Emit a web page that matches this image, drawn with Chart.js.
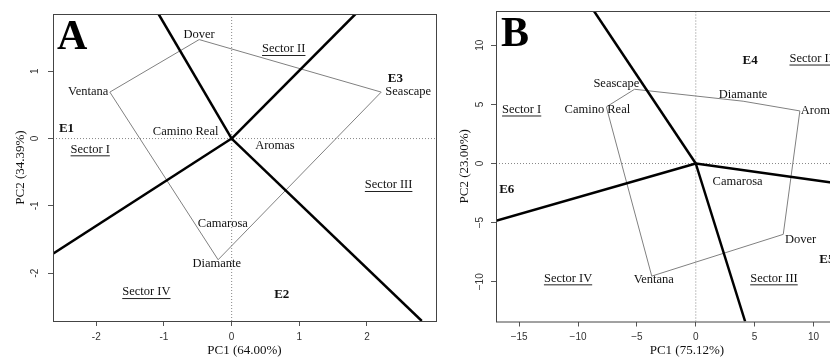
<!DOCTYPE html>
<html>
<head>
<meta charset="utf-8">
<script src="https://cdn.jsdelivr.net/npm/chart.js@4.4.1/dist/chart.umd.min.js"></script>
<style>
  html, body { margin: 0; padding: 0; background: #fff; }
  body { width: 830px; height: 360px; overflow: hidden; position: relative; }
  canvas { position: absolute; top: 0; }
  #panelA { left: 0; }
  #panelB { left: 440px; }
</style>
</head>
<body>
<canvas id="panelA" width="440" height="360"></canvas>
<canvas id="panelB" width="443" height="360"></canvas>
<script>
// ---- panel A ----
const A_X_RANGE = [-2.64, 3.02];
const A_Y_RANGE = [-2.71, 1.85];
const A_TICKS_X = [-2, -1, 0, 1, 2];
const A_TICKS_Y = [-2, -1, 0, 1];
// polygon vertices: Dover, Seascape, Diamante, Ventana
const A_POLY_X = [-0.48, 2.21, -0.20, -1.80, -0.48];
const A_POLY_Y = [1.47, 0.69, -1.80, 0.69, 1.47];
// sector rays from origin
const A_RAY_X = [-1.08, 1.83, -2.64, 2.81];
const A_RAY_Y = [1.85, 1.85, -1.71, -2.71];
const A_GENOTYPES = ['Dover', 'Ventana', 'Seascape', 'Camino Real', 'Aromas', 'Camarosa', 'Diamante'];
const A_GEN_X = [-0.48, -2.12, 2.61, -0.68, 0.64, -0.13, -0.22];
const A_GEN_Y = [1.54, 0.69, 0.69, 0.10, -0.11, -1.27, -1.86];
const A_ENVS = ['E1', 'E2', 'E3'];
const A_ENV_X = [-2.44, 0.74, 2.42];
const A_ENV_Y = [0.14, -2.32, 0.89];
const A_SECTORS = ['Sector I', 'Sector II', 'Sector III', 'Sector IV'];
const A_SEC_X = [-2.09, 0.77, 2.32, -1.26];
const A_SEC_Y = [-0.16, 1.33, -0.69, -2.28];

// ---- panel B ----
const B_X_RANGE = [-16.97, 15.45];
const B_Y_RANGE = [-13.36, 12.9];
const B_TICKS_X = [-15, -10, -5, 0, 5, 10, 15];
const B_TICKS_Y = [-10, -5, 0, 5, 10];
// polygon vertices: Seascape, Diamante, Aromas, Dover, Ventana, Camino Real
const B_POLY_X = [-5.20, 4.02, 8.84, 7.43, -3.74, -7.60, -5.20];
const B_POLY_Y = [6.28, 5.27, 4.45, -5.99, -9.52, 4.79, 6.28];
const B_RAY_X = [-8.65, 15.45, 4.19, -16.97];
const B_RAY_Y = [12.9, -2.15, -13.36, -4.85];
const B_GENOTYPES = ['Seascape', 'Camino Real', 'Diamante', 'Aromas', 'Camarosa', 'Dover', 'Ventana'];
const B_GEN_X = [-6.75, -8.36, 4.02, 10.6, 3.55, 8.9, -3.57];
const B_GEN_Y = [6.76, 4.51, 5.86, 4.45, -1.55, -6.42, -9.86];
const B_ENVS = ['E4', 'E5', 'E6'];
const B_ENV_X = [4.61, 11.13, -16.06];
const B_ENV_Y = [8.73, -8.15, -2.19];
const B_SECTORS = ['Sector II', 'Sector I', 'Sector IV', 'Sector III'];
const B_SEC_X = [9.8, -14.79, -10.85, 6.64];
const B_SEC_Y = [8.88, 4.57, -9.71, -9.71];

const SERIF = '"Liberation Serif", "DejaVu Serif", serif';
const SANS = '"Liberation Sans", Arial, sans-serif';

function pts(xs, ys) {
  return xs.map((x, i) => ({ x: x, y: ys[i] }));
}

// box, labels and panel letter
const biplotText = {
  id: 'biplotText',
  afterDatasetsDraw(chart, args, opts) {
    const { ctx, chartArea: a, scales: { x, y } } = chart;
    ctx.save();
    ctx.strokeStyle = '#444';
    ctx.lineWidth = 1;
    ctx.strokeRect(a.left + 0.5, a.top + 0.5, a.right - a.left, a.bottom - a.top);

    ctx.fillStyle = '#111';
    ctx.textAlign = 'center';
    ctx.textBaseline = 'middle';
    ctx.font = '12.5px ' + SERIF;
    opts.gen.forEach((t, i) => ctx.fillText(t, x.getPixelForValue(opts.genX[i]), y.getPixelForValue(opts.genY[i])));

    ctx.font = 'bold 13px ' + SERIF;
    opts.env.forEach((t, i) => ctx.fillText(t, x.getPixelForValue(opts.envX[i]), y.getPixelForValue(opts.envY[i])));

    ctx.font = '12.5px ' + SERIF;
    ctx.strokeStyle = '#222';
    opts.sec.forEach((t, i) => {
      const px = x.getPixelForValue(opts.secX[i]);
      const py = y.getPixelForValue(opts.secY[i]);
      ctx.fillText(t, px, py);
      const w = ctx.measureText(t).width;
      ctx.beginPath();
      ctx.moveTo(px - w / 2, py + 6.5);
      ctx.lineTo(px + w / 2, py + 6.5);
      ctx.stroke();
    });

    ctx.font = 'bold 42px ' + SERIF;
    ctx.textAlign = 'left';
    ctx.textBaseline = 'alphabetic';
    ctx.fillStyle = '#000';
    ctx.fillText(opts.letter, a.left + opts.letterDx, a.top + 35);
    ctx.restore();
  }
};

function makePanel(id, p) {
  const zero = { borderColor: '#888', borderWidth: 1, borderDash: [1, 2], showLine: true, pointRadius: 0 };
  const datasets = [];
  p.rayX.forEach((rx, i) => {
    datasets.push({ data: [{ x: 0, y: 0 }, { x: rx, y: p.rayY[i] }], borderColor: '#000', borderWidth: 2.5, showLine: true, pointRadius: 0 });
  });
  datasets.push({ data: pts(p.polyX, p.polyY), borderColor: '#808080', borderWidth: 1, showLine: true, pointRadius: 0, tension: 0 });
  datasets.push(Object.assign({ data: [{ x: 0, y: p.yRange[0] }, { x: 0, y: p.yRange[1] }] }, zero));
  datasets.push(Object.assign({ data: [{ x: p.xRange[0], y: 0 }, { x: p.xRange[1], y: 0 }] }, zero));

  const tickFmt = v => (v < 0 ? p.minus + Math.abs(v) : String(v));

  new Chart(document.getElementById(id), {
    type: 'scatter',
    data: { datasets: datasets },
    options: {
      responsive: false,
      animation: false,
      layout: { padding: { top: p.padTop, right: 4, left: 0, bottom: 0 } },
      plugins: {
        legend: { display: false },
        tooltip: { enabled: false },
        biplotText: p.text
      },
      scales: {
        x: {
          type: 'linear',
          min: p.xRange[0],
          max: p.xRange[1],
          afterBuildTicks: s => { s.ticks = p.ticksX.map(v => ({ value: v })); },
          afterFit: s => { s.height = p.xHeight; },
          border: { display: false },
          grid: { drawOnChartArea: false, drawTicks: true, tickLength: 5, color: '#555' },
          ticks: { autoSkip: false, maxRotation: 0, padding: 5, color: '#333', font: { family: SANS, size: 10 }, callback: tickFmt },
          title: { display: true, text: p.xTitle, color: '#111', font: { family: SERIF, size: 13 }, padding: { top: 0, bottom: 2 } }
        },
        y: {
          type: 'linear',
          min: p.yRange[0],
          max: p.yRange[1],
          afterBuildTicks: s => { s.ticks = p.ticksY.map(v => ({ value: v })); },
          afterFit: s => { s.width = p.yWidth; },
          border: { display: false },
          grid: { drawOnChartArea: false, drawTicks: true, tickLength: 5, color: '#555' },
          ticks: { autoSkip: false, minRotation: 90, maxRotation: 90, crossAlign: 'center', padding: p.yTickPad, color: '#333', font: { family: SANS, size: 10 }, callback: tickFmt },
          title: { display: true, text: p.yTitle, color: '#111', font: { family: SERIF, size: 13 }, padding: { top: p.yTitlePad, bottom: 0 } }
        }
      }
    },
    plugins: [biplotText]
  });
}

makePanel('panelA', {
  xRange: A_X_RANGE, yRange: A_Y_RANGE, ticksX: A_TICKS_X, ticksY: A_TICKS_Y,
  polyX: A_POLY_X, polyY: A_POLY_Y, rayX: A_RAY_X, rayY: A_RAY_Y,
  xTitle: 'PC1 (64.00%)', yTitle: 'PC2 (34.39%)', minus: '-',
  padTop: 10, xHeight: 39, yWidth: 53, yTickPad: 8, yTitlePad: 13,
  text: {
    gen: A_GENOTYPES, genX: A_GEN_X, genY: A_GEN_Y,
    env: A_ENVS, envX: A_ENV_X, envY: A_ENV_Y,
    sec: A_SECTORS, secX: A_SEC_X, secY: A_SEC_Y,
    letter: 'A', letterDx: 4
  }
});

makePanel('panelB', {
  xRange: B_X_RANGE, yRange: B_Y_RANGE, ticksX: B_TICKS_X, ticksY: B_TICKS_Y,
  polyX: B_POLY_X, polyY: B_POLY_Y, rayX: B_RAY_X, rayY: B_RAY_Y,
  xTitle: 'PC1 (75.12%)', yTitle: 'PC2 (23.00%)', minus: '\u2212',
  padTop: 11, xHeight: 38.5, yWidth: 56, yTickPad: 2, yTitlePad: 17,
  text: {
    gen: B_GENOTYPES, genX: B_GEN_X, genY: B_GEN_Y,
    env: B_ENVS, envX: B_ENV_X, envY: B_ENV_Y,
    sec: B_SECTORS, secX: B_SEC_X, secY: B_SEC_Y,
    letter: 'B', letterDx: 5
  }
});
</script>
</body>
</html>
